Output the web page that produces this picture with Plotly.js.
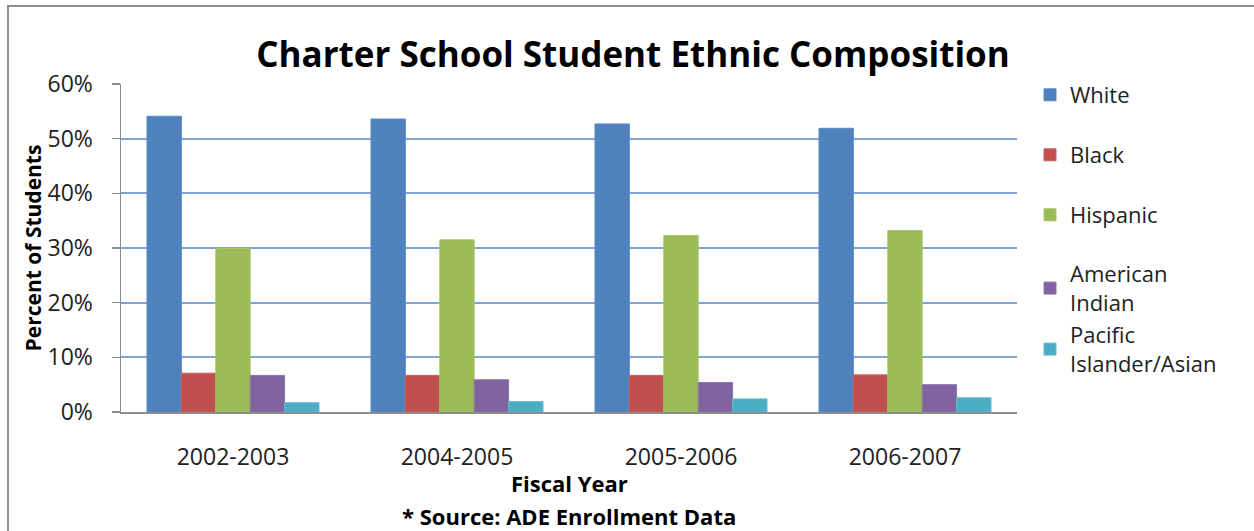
<!DOCTYPE html>
<html>
<head>
<meta charset="utf-8">
<script src="https://cdn.plot.ly/plotly-3.0.1.min.js"></script>
<style>
  html, body { margin: 0; padding: 0; background: #fff; }
  #wrap { position: relative; width: 1254px; height: 531px; overflow: hidden; }
  #chart { width: 1254px; height: 531px; }
  #frame { position: absolute; left: 7px; top: 5px; width: 1300px; height: 600px;
           border-left: 2px solid #8f8f8f; border-top: 2px solid #8f8f8f; pointer-events: none; }
</style>
</head>
<body>
<div id="wrap">
  <div id="chart"></div>
  <div id="frame"></div>
</div>
<script>
// ---- data ----
const years = ["2002-2003", "2004-2005", "2005-2006", "2006-2007"];
const seriesNames = ["White", "Black", "Hispanic", "American<br>Indian", "Pacific<br>Islander/Asian"];
const white    = [0.541, 0.536, 0.527, 0.519];
const black    = [0.071, 0.067, 0.067, 0.068];
const hispanic = [0.299, 0.315, 0.323, 0.332];
const amIndian = [0.067, 0.059, 0.054, 0.050];
const pacific  = [0.017, 0.019, 0.024, 0.026];
const yTicks   = [0, 0.1, 0.2, 0.3, 0.4, 0.5, 0.6];

const values = [white, black, hispanic, amIndian, pacific];
const colors = ["#4F81BD", "#C0504D", "#9BBB59", "#8064A2", "#4BACC6"];
const lineColors = ["#5B8CC6", "#C96260", "#A8C66A", "#8F76AE", "#63BAD1"];
const legendIds = ["legend", "legend2", "legend3", "legend4", "legend5"];
const legendTopPx = [74, 134, 194, 253, 314];

const FONT = "'Open Sans', 'DejaVu Sans', sans-serif";
const W = 1254, H = 531;
const plotTop = 84, plotBottom = 412;
const toPaperY = py => (plotBottom - py) / (plotBottom - plotTop);

const traces = values.map((v, i) => ({
  type: "bar",
  name: seriesNames[i],
  x: years,
  y: v,
  marker: { color: colors[i], line: { color: lineColors[i], width: 1 } },
  legend: legendIds[i],
  hoverinfo: "x+y+name"
}));

const layout = {
  width: W, height: H,
  margin: { l: 121, r: 237, t: plotTop, b: H - plotBottom },
  paper_bgcolor: "#ffffff",
  plot_bgcolor: "#ffffff",
  barmode: "group",
  bargap: 0.232,
  bargroupgap: 0,
  font: { family: FONT, color: "#222", size: 20 },
  title: {
    text: "<b>Charter School Student Ethnic Composition</b>",
    font: { family: FONT, size: 35, color: "#000" },
    x: 633 / W, xanchor: "center", xref: "container",
    y: 1 - 55 / H, yanchor: "middle", yref: "container"
  },
  xaxis: {
    type: "category",
    showgrid: false,
    showline: true, linecolor: "#8c8c8c", linewidth: 2,
    ticks: "", ticklabelstandoff: 23,
    tickfont: { family: FONT, size: 23, color: "#222" },
    zeroline: false
  },
  yaxis: {
    range: [0, 0.6],
    tickvals: yTicks,
    tickformat: ".0%",
    showgrid: true, gridcolor: "#7FA3D3", gridwidth: 2,
    showline: true, linecolor: "#8c8c8c", linewidth: 1.5,
    ticks: "outside", ticklen: 8, tickcolor: "#8c8c8c", tickwidth: 1.5,
    ticklabelstandoff: 14,
    tickfont: { family: FONT, size: 23, color: "#222" },
    zeroline: false,
    title: { text: "<b>Percent of Students</b>", font: { family: FONT, size: 21, color: "#000" }, standoff: 0 }
  },
  annotations: [
    { text: "<b>Fiscal Year</b>", xref: "paper", yref: "paper", x: 0.5, y: toPaperY(483),
      xanchor: "center", yanchor: "middle", showarrow: false, font: { family: FONT, size: 22, color: "#000" } },
    { text: "<b>* Source: ADE Enrollment Data</b>", xref: "paper", yref: "paper", x: 0.5, y: toPaperY(516),
      xanchor: "center", yanchor: "middle", showarrow: false, font: { family: FONT, size: 22, color: "#000" } }
  ],
  showlegend: true
};

legendIds.forEach((id, i) => {
  layout[id] = {
    xref: "container", yref: "container",
    x: 1030 / W, xanchor: "left",
    y: 1 - legendTopPx[i] / H, yanchor: "top",
    bgcolor: "rgba(0,0,0,0)", borderwidth: 0,
    font: { family: FONT, size: 22, color: "#222" },
    itemwidth: 30
  };
});

Plotly.newPlot("chart", traces, layout, { displayModeBar: false, staticPlot: true });
</script>
</body>
</html>
